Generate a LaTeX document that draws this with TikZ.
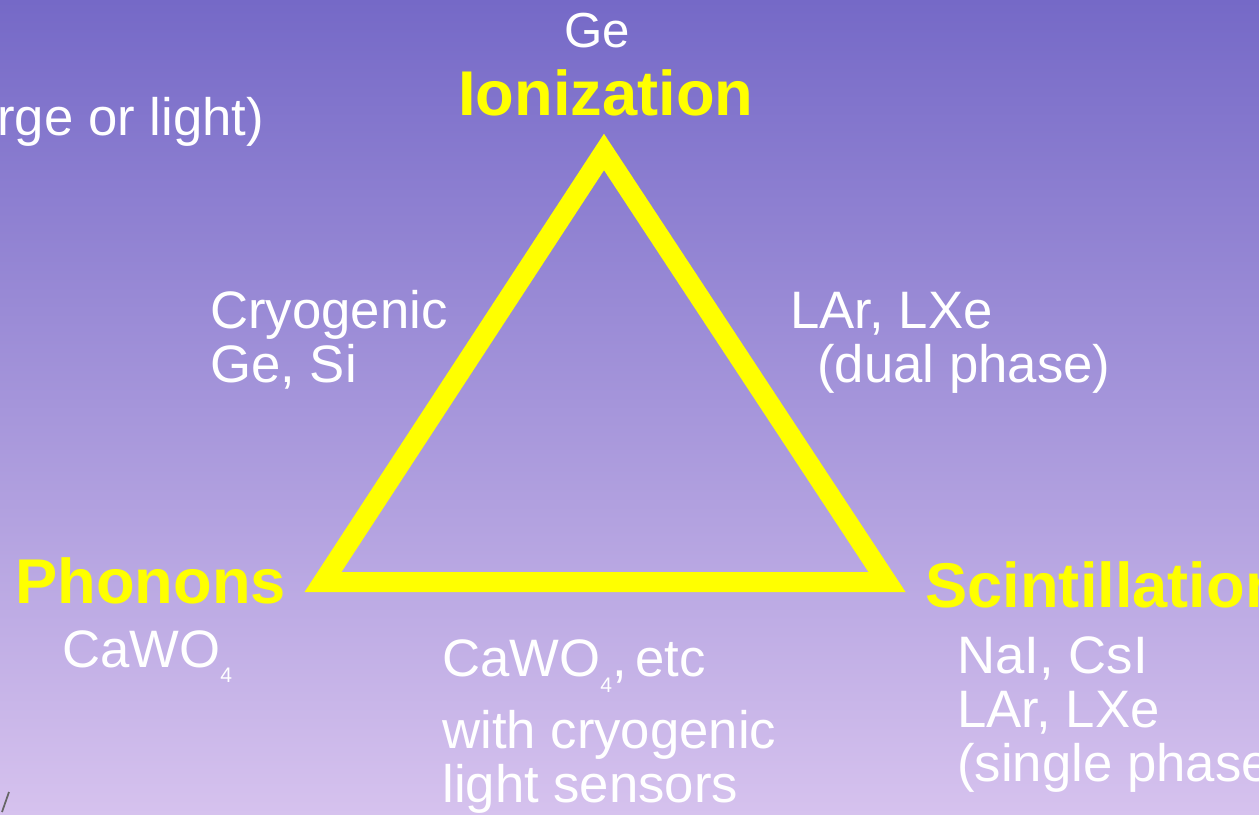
\documentclass[tikz,border=0pt]{standalone}
\usepackage{fontspec}
\setmainfont{Liberation Sans}
\usepackage{tikz}

\definecolor{bgtop}{RGB}{117,105,199}
\definecolor{bgmid}{RGB}{163,147,220}
\definecolor{bgbot}{RGB}{214,194,238}
\definecolor{sigyellow}{RGB}{255,255,0}

\begin{document}
\begin{tikzpicture}[x=0.02cm,y=-0.02cm,
  mat/.style={text=white,font=\fontsize{30}{30.7}\selectfont,align=left,inner sep=0pt,anchor=base west},
  sig/.style={text=sigyellow,font=\fontsize{36}{36}\selectfont\bfseries,inner sep=0pt,anchor=base west},
  side/.style={draw=sigyellow,line width=4mm,line join=miter}]
  \useasboundingbox (0,0) rectangle (1259,815);
  \shade[top color=bgtop,middle color=bgmid,bottom color=bgbot] (0,0) rectangle (1259,815);
  \clip (0,0) rectangle (1259,815);
  % corners of the triangle
  \coordinate (ion) at (604,152);
  \coordinate (pho) at (323,582);
  \coordinate (sci) at (887,582);
  \draw[side] (ion) -- (pho) -- (sci) -- cycle;
  % signal names
  \node[sig] (ionlbl) at (458,115) {Ionization};
  \node[sig] (pholbl) at (15,603) {Phonons};
  \node[sig] (scilbl) at (925,607) {Scintillation};
  % detector materials (anchored at the last line)
  \node[mat] (chg) at (-3,135) {rge or light)};
  \node[mat,font=\fontsize{28}{28}\selectfont] (ge) at (564,47) {Ge};
  \node[mat] (cryo) at (210,382) {Cryogenic\\Ge, Si};
  \node[mat] (dual) at (790,382) {LAr, LXe\\\hspace*{0.54cm}(dual phase)};
  \node[mat] (cawo) at (62,667) {CaWO\raisebox{-9pt}{\fontsize{12}{12}\selectfont 4}};
  \node[mat] (light) at (442,802) {CaWO\raisebox{-9pt}{\fontsize{12}{12}\selectfont 4},\,etc\\[9pt]with cryogenic\\light sensors};
  \node[mat] (single) at (957,781) {NaI, CsI\\LAr, LXe\\(single phase)};
  \draw[black!60,line width=1pt] (9,792) -- (2,812);
\end{tikzpicture}
\end{document}
